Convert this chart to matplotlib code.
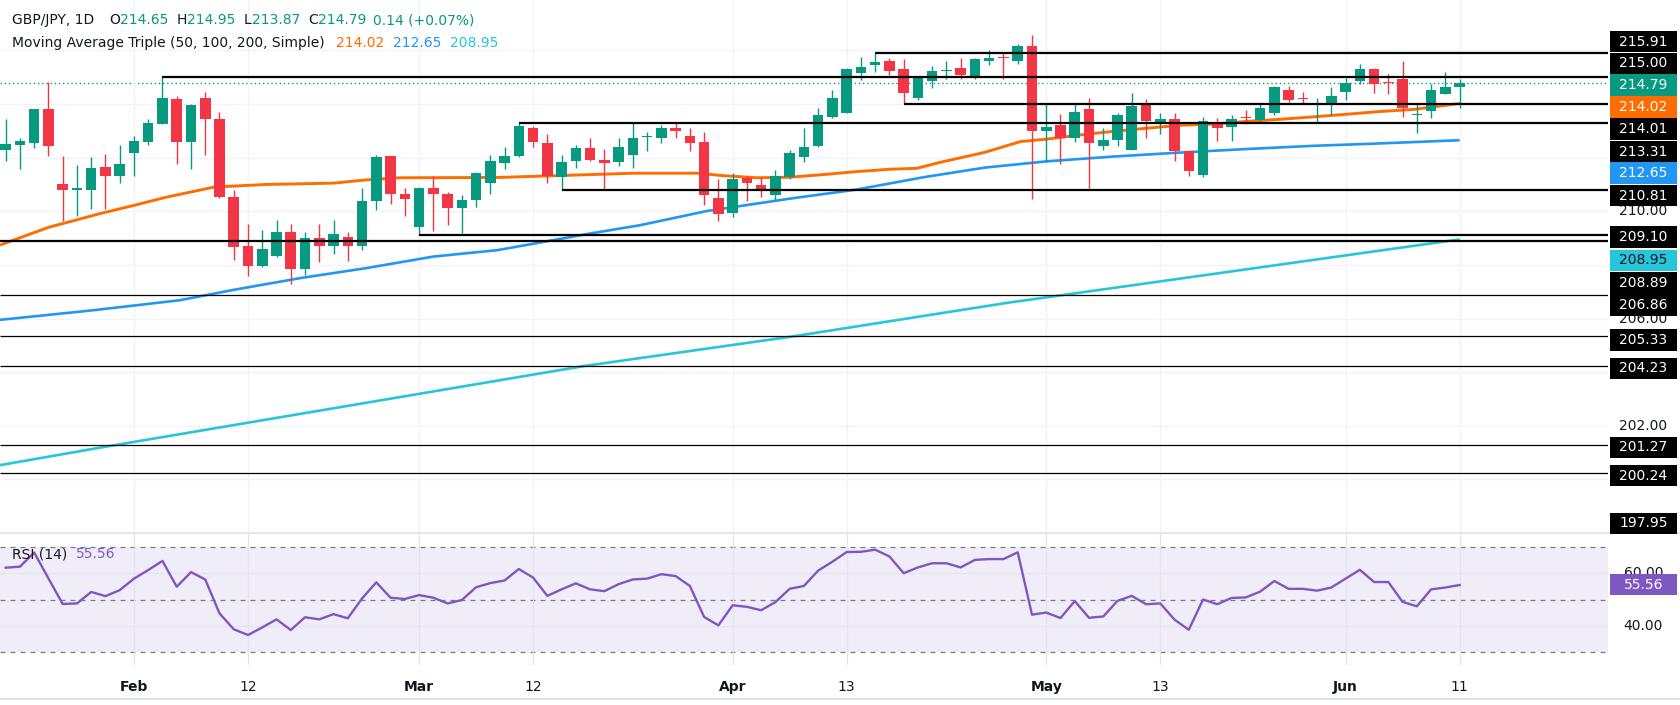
import matplotlib
matplotlib.use('Agg')
import matplotlib.pyplot as plt
from matplotlib.patches import Rectangle
from matplotlib.lines import Line2D
from matplotlib.transforms import blended_transform_factory
import numpy as np
import pandas as pd

# GBP/JPY daily candles
dates = pd.bdate_range('2026-01-20', '2026-06-11')

opens = [212.28, 212.48, 212.56, 213.83, 211.01, 210.81, 210.81, 211.64, 211.33, 212.19,
         212.59, 213.25, 214.17, 212.59, 214.21, 213.43, 210.54, 208.69, 207.95, 208.33,
         209.23, 207.85, 208.99, 208.72, 209.05, 208.72, 210.40, 212.05, 210.63, 209.42,
         210.88, 210.65, 210.12, 210.42, 211.07, 211.81, 212.07, 213.09, 212.54, 211.26,
         211.89, 212.35, 211.91, 211.85, 212.11, 212.77, 212.74, 213.09, 212.79, 212.58,
         210.51, 209.94, 211.25, 210.98, 210.59, 211.26, 212.01, 212.44, 213.52, 213.67,
         215.16, 215.46, 215.62, 215.32, 214.23, 214.85, 215.22, 215.35, 214.98, 215.59,
         215.75, 215.59, 216.17, 212.98, 213.21, 212.72, 213.83, 212.44, 212.67, 212.30,
         213.96, 213.30, 213.43, 212.26, 211.37, 213.25, 213.15, 213.49, 213.40, 213.67,
         214.54, 214.22, 214.02, 213.98, 214.44, 214.85, 215.32, 214.83, 214.95, 213.60,
         213.75, 214.38, 214.65]
highs = [213.46, 212.75, 213.83, 214.83, 212.07, 211.72, 212.01, 212.14, 212.46, 212.80,
         213.43, 215.00, 214.30, 213.99, 214.44, 213.69, 210.78, 209.54, 209.32, 209.69,
         209.51, 209.21, 209.54, 209.69, 209.21, 210.85, 212.09, 212.05, 210.85, 210.90,
         211.33, 210.72, 210.60, 211.48, 212.09, 212.38, 213.31, 213.19, 212.88, 212.10,
         212.48, 212.73, 212.32, 212.75, 213.28, 212.94, 213.21, 213.28, 213.09, 212.94,
         211.21, 211.42, 211.30, 211.27, 211.54, 212.28, 213.12, 213.84, 214.53, 215.35,
         215.75, 215.91, 215.72, 215.67, 215.06, 215.41, 215.62, 215.72, 215.72, 216.02,
         215.90, 216.23, 216.58, 214.01, 213.62, 214.05, 214.21, 213.10, 213.68, 214.40,
         214.17, 213.68, 213.68, 212.26, 213.53, 213.49, 213.58, 213.78, 214.01, 214.67,
         214.67, 214.46, 214.21, 214.63, 214.98, 215.51, 215.35, 215.12, 215.59, 214.01,
         214.73, 215.20, 214.95]
lows = [211.86, 211.58, 212.36, 212.07, 209.64, 209.83, 210.07, 210.07, 211.07, 211.30,
        212.48, 213.25, 211.77, 211.58, 212.10, 210.50, 208.19, 207.57, 207.93, 208.31,
        207.28, 207.63, 208.11, 208.41, 208.14, 208.56, 210.04, 210.26, 209.81, 209.10,
        209.27, 209.48, 209.20, 210.16, 210.63, 211.58, 212.04, 212.41, 211.07, 210.81,
        211.62, 211.89, 210.81, 211.67, 211.60, 212.26, 212.53, 212.72, 212.23, 210.22,
        209.63, 209.79, 210.37, 210.52, 210.41, 211.21, 211.83, 212.38, 213.49, 213.67,
        214.91, 215.19, 215.10, 214.01, 214.16, 214.60, 214.94, 214.94, 214.94, 215.44,
        214.95, 215.49, 210.44, 211.83, 211.77, 212.57, 210.78, 212.28, 212.44, 212.28,
        212.73, 212.88, 211.89, 211.30, 211.27, 212.63, 212.63, 213.25, 213.37, 213.59,
        214.09, 214.01, 213.30, 213.59, 214.14, 214.75, 214.42, 214.36, 213.52, 212.93,
        213.48, 214.36, 213.87]
closes = [212.51, 212.62, 213.83, 212.44, 210.78, 210.85, 211.62, 211.33, 211.77, 212.62,
          213.28, 214.21, 212.59, 213.96, 213.43, 210.54, 208.67, 207.95, 208.60, 209.23,
          207.85, 208.99, 208.72, 209.16, 208.72, 210.40, 212.01, 210.63, 210.44, 210.88,
          210.63, 210.12, 210.42, 211.43, 211.86, 212.05, 213.19, 212.59, 211.33, 211.84,
          212.35, 211.91, 211.79, 212.38, 212.75, 212.79, 213.09, 213.00, 212.53, 210.59,
          209.89, 211.21, 211.04, 210.78, 211.32, 212.17, 212.38, 213.58, 214.21, 215.32,
          215.38, 215.57, 215.22, 214.42, 214.98, 215.25, 215.28, 215.07, 215.68, 215.72,
          215.72, 216.17, 213.00, 213.16, 212.75, 213.72, 212.56, 212.65, 213.58, 213.91,
          213.37, 213.46, 212.26, 211.52, 213.36, 213.09, 213.46, 213.47, 213.84, 214.63,
          214.15, 214.20, 214.05, 214.30, 214.79, 215.32, 214.75, 214.78, 213.86, 213.64,
          214.51, 214.65, 214.79]

# moving averages (bar index, value) read at points along each line
ma50_x = [-0.4, 3, 6.6, 9, 11.3, 14.6, 16, 18.3, 23, 25.3, 27.7, 34.5, 38.7, 44.1, 48.5,
          50.3, 52.7, 55, 57.4, 59.7, 62.1, 63.9, 65.6, 68.7, 71.2, 73, 75.4, 77.7, 80.1,
          82.4, 84.7, 87, 89.4, 91.7, 94.1, 96.4, 98.8, 102]
ma50_y = [208.74, 209.40, 209.91, 210.22, 210.53, 210.90, 210.94, 211.00, 211.05, 211.17,
          211.25, 211.26, 211.33, 211.42, 211.42, 211.33, 211.25, 211.27, 211.37, 211.48,
          211.57, 211.60, 211.83, 212.20, 212.60, 212.69, 212.85, 212.98, 213.10, 213.21,
          213.25, 213.35, 213.43, 213.52, 213.62, 213.72, 213.80, 214.02]
ma100_x = [-0.4, 6, 12.2, 16, 20.7, 25.3, 30, 34.5, 41, 44.5, 49.2, 55, 59.7, 64.4, 68.7,
           73, 77.7, 82.4, 87, 91.7, 96.4, 102]
ma100_y = [205.95, 206.30, 206.68, 207.07, 207.51, 207.88, 208.31, 208.55, 209.17, 209.48,
           210.01, 210.47, 210.81, 211.27, 211.63, 211.86, 212.04, 212.19, 212.32, 212.44,
           212.53, 212.65]
ma200_x = [-0.4, 6.8, 40.6, 55.2, 70.2, 102]
ma200_y = [200.53, 201.20, 204.23, 205.33, 206.58, 208.95]

rsi = [62.2, 62.6, 68.0, 58.1, 48.3, 48.5, 52.9, 51.3, 53.6, 58.0, 61.3, 64.8, 54.9, 60.5,
       57.7, 44.7, 38.6, 36.4, 39.3, 42.4, 38.3, 43.2, 42.4, 44.4, 42.8, 50.4, 56.6, 50.7,
       50.2, 51.7, 50.7, 48.5, 49.8, 54.7, 56.3, 57.3, 61.7, 58.4, 51.4, 53.9, 56.2, 53.9,
       53.2, 55.9, 57.7, 58.0, 59.7, 59.0, 55.2, 43.3, 40.1, 47.8, 47.2, 45.9, 49.0, 54.1,
       55.2, 61.1, 64.5, 68.2, 68.3, 69.1, 66.5, 60.1, 62.3, 63.9, 63.9, 62.3, 65.2, 65.5,
       65.5, 68.1, 44.2, 45.0, 42.9, 49.4, 43.0, 43.5, 49.5, 51.4, 48.2, 48.5, 42.3, 38.4,
       50.0, 48.2, 50.6, 50.8, 53.0, 57.1, 54.1, 54.1, 53.4, 54.6, 58.0, 61.4, 56.7, 56.7,
       49.1, 47.4, 53.9, 54.6, 55.56]

# drawn horizontal levels and the bar they start from (None = off the left edge)
levels = [215.91, 215.00, 214.01, 213.31, 210.81, 209.10, 208.89, 206.86, 205.33, 204.23,
          201.27, 200.24, 197.95]
level_start = ['2026-04-15', '2026-02-04', '2026-04-17', '2026-03-11', '2026-03-16',
               '2026-03-02', None, None, None, None, None, None, None]

tick_dates = ['2026-02-02', '2026-02-12', '2026-03-02', '2026-03-12', '2026-04-01',
              '2026-04-13', '2026-05-01', '2026-05-13', '2026-06-01', '2026-06-11']
tick_labels = ['Feb', '12', 'Mar', '12', 'Apr', '13', 'May', '13', 'Jun', '11']

GREEN = '#089981'
RED = '#F23645'
ORANGE = '#FF6D00'
BLUE = '#2196F3'
CYAN = '#26C6DA'
PURPLE = '#7E57C2'
DARK = '#131722'
GRID = '#F0F3FA'

W, H = 1681, 705
PANE_R = 1608


def rect(x0, y0, x1, y1):
    return [x0 / W, 1 - y1 / H, (x1 - x0) / W, (y1 - y0) / H]


fig = plt.figure(figsize=(W / 100, H / 100), dpi=100)
fig.patch.set_facecolor('white')
ax = fig.add_axes(rect(0, 0, PANE_R, 533))
rax = fig.add_axes(rect(0, 533, PANE_R, 665), sharex=ax)

o = np.array(opens)
h = np.array(highs)
l = np.array(lows)
c = np.array(closes)
x = np.arange(len(dates))
cols = np.where(c >= o, GREEN, RED)

ax.vlines(x, l, h, colors=cols, lw=1.0, zorder=3)
ax.bar(x, np.maximum(np.abs(c - o), 0.035), bottom=np.minimum(o, c), width=0.74,
       color=cols, linewidth=0, zorder=4)

ax.plot(ma200_x, ma200_y, color=CYAN, lw=1.9, zorder=2, solid_capstyle='butt')
ax.plot(ma100_x, ma100_y, color=BLUE, lw=1.9, zorder=2, solid_capstyle='butt')
ax.plot(ma50_x, ma50_y, color=ORANGE, lw=2.1, zorder=2, solid_capstyle='butt')

xmin, xmax = -0.398, 112.41
for i, (lv, st) in enumerate(zip(levels, level_start)):
    x0 = xmin if st is None else dates.get_loc(pd.Timestamp(st))
    ax.hlines(lv, x0, xmax, color='black', lw=1.6 if i < 7 else 0.9, zorder=5)

ax.axhline(closes[-1], color=GREEN, lw=1.0, ls=(0, (1, 2)), zorder=1)

ax.set_xlim(xmin, xmax)
ax.set_ylim(198.14, 217.88)
ax.set_yticks(np.arange(198, 218, 2))
tick_idx = [dates.get_loc(pd.Timestamp(d)) for d in tick_dates]
ax.set_xticks(tick_idx)
ax.grid(True, color=GRID, lw=1.0, zorder=0)
ax.tick_params(left=False, labelleft=False, bottom=False, labelbottom=False)
for s in ax.spines.values():
    s.set_visible(False)

# RSI pane
rax.axhspan(30, 70, color=PURPLE, alpha=0.1, lw=0, zorder=0)
for lv in (70, 50, 30):
    rax.axhline(lv, color='#787B86', lw=0.9, ls=(0, (4, 4)), zorder=1)
rax.plot(x, rsi, color=PURPLE, lw=1.7, zorder=3)
rax.set_ylim(24.9, 75.5)
rax.set_yticks([40, 60])
rax.grid(True, color='#E6E3F0', lw=0.9, zorder=0)
rax.tick_params(left=False, labelleft=False, length=0, pad=11, labelsize=10,
                labelcolor=DARK)
rax.set_xticklabels(tick_labels)
for t in rax.get_xticklabels():
    if not t.get_text().isdigit():
        t.set_fontweight('bold')
for s in rax.spines.values():
    s.set_visible(False)

# pane separators
fig.add_artist(Line2D([0, 1], [1 - 533 / H] * 2, color='#E0E3EB', lw=1.2))
fig.add_artist(Line2D([0, 1], [1 - 699 / H] * 2, color='#E0E3EB', lw=1.5))

# header
chg = closes[-1] - closes[-2]
pct = chg / closes[-2] * 100
hy1, hy2 = 1 - 20 / H, 1 - 43 / H
head1 = [(12.5, 'GBP/JPY, 1D', DARK), (109, 'O', DARK), (120, f'{opens[-1]:.2f}', GREEN),
         (177, 'H', DARK), (187.5, f'{highs[-1]:.2f}', GREEN), (244, 'L', DARK),
         (252, f'{lows[-1]:.2f}', GREEN), (308, 'C', DARK), (318, f'{closes[-1]:.2f}', GREEN),
         (373, f'{chg:.2f} (+{pct:.2f}%)', GREEN)]
for px, txt, col in head1:
    fig.text(px / W, hy1, txt, color=col, fontsize=10, va='center', ha='left')
head2 = [(12.5, 'Moving Average Triple (50, 100, 200, Simple)', DARK),
         (336, f'{ma50_y[-1]:.2f}', ORANGE), (393, f'{ma100_y[-1]:.2f}', BLUE),
         (450, f'{ma200_y[-1]:.2f}', CYAN)]
for px, txt, col in head2:
    fig.text(px / W, hy2, txt, color=col, fontsize=10, va='center', ha='left')

fig.text(12 / W, 1 - 554 / H, 'RSI (14)', color=DARK, fontsize=10, va='center')
fig.text(76 / W, 1 - 554 / H, f'{rsi[-1]:.2f}', color=PURPLE, fontsize=10, va='center')

# right price scale
tr_main = blended_transform_factory(fig.transFigure, ax.transData)
for g in (210, 206, 202):
    fig.text(1643.5 / W, g, f'{g:.2f}', transform=tr_main, color=DARK, fontsize=10,
             ha='center', va='center', zorder=5)
tr_rsi = blended_transform_factory(fig.transFigure, rax.transData)
for g in (60, 40):
    fig.text(1643.5 / W, g, f'{g:.2f}', transform=tr_rsi, color=DARK, fontsize=10,
             ha='center', va='center', zorder=5)


def tag(y_px, txt, face, fg='white'):
    fig.add_artist(Rectangle((1610 / W, 1 - (y_px + 10.5) / H), 67 / W, 21 / H,
                             transform=fig.transFigure, facecolor=face, edgecolor='none',
                             zorder=6))
    fig.text(1643.5 / W, 1 - y_px / H, txt, color=fg, fontsize=10, ha='center',
             va='center', zorder=7)


tag_rows = [(levels[0], 41.7, 'black'), (levels[1], 63.3, 'black'),
            (closes[-1], 85, GREEN), (ma50_y[-1], 107, ORANGE),
            (levels[2], 129, 'black'), (levels[3], 152, 'black'),
            (ma100_y[-1], 173, BLUE), (levels[4], 196, 'black'),
            (levels[5], 237, 'black'), (ma200_y[-1], 260, CYAN),
            (levels[6], 283, 'black'), (levels[7], 305, 'black'),
            (levels[8], 340, 'black'), (levels[9], 368, 'black'),
            (levels[10], 447, 'black'), (levels[11], 475.6, 'black'),
            (levels[12], 523, 'black')]
for val, ypx, face in tag_rows:
    tag(ypx, f'{val:.2f}', face, DARK if face == CYAN else 'white')

rsi_px = 547.3 + (70 - rsi[-1]) * 2.61
tag(rsi_px, f'{rsi[-1]:.2f}', PURPLE)

fig.savefig('out.png', dpi=100, facecolor='white')
